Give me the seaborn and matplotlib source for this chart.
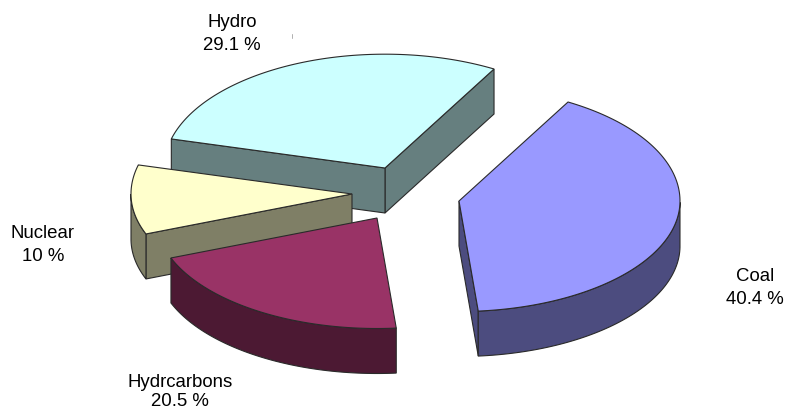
import numpy as np
import matplotlib
matplotlib.use("Agg")
import matplotlib.pyplot as plt
from matplotlib.patches import Polygon
import seaborn as sns

# data
categories = ["Coal", "Hydro", "Nuclear", "Hydrcarbons"]
shares = [40.4, 29.1, 10, 20.5]

# style / layout
top_colors = sns.color_palette(["#9999FF", "#CCFFFF", "#FFFFCC", "#993366"])
wall_colors = sns.color_palette(["#4C4C7F", "#667F7F", "#7F7F66", "#4C1933"])
draw_order = [1, 2, 3, 0]
centre = (393, 195)
explode = [(66, 6), (-8, -27), (-41, -1), (-16, 23)]
label_pos = [(755, 288), (232, 34), (43, 245), (180, 392)]
label_spacing = [1.4, 1.4, 1.4, 1.2]
start_angle = -85
radius = 221
squash_up, squash_down = 0.515, 0.50
depth = 45
edge = "#2a2a2a"
lw = 0.8

sns.set_theme(style="white")
plt.rcParams["font.family"] = ["Liberation Sans", "DejaVu Sans"]

fig = plt.figure(figsize=(7.86, 4.11), dpi=100)
ax = fig.add_axes([0, 0, 1, 1])
ax.set_xlim(0, 786)
ax.set_ylim(411, 0)
ax.axis("off")


def project(deg, apex):
    t = np.radians(deg)
    s = np.sin(t)
    k = np.where(s > 0, squash_up, squash_down)
    return np.column_stack((apex[0] + radius * np.cos(t), apex[1] - radius * s * k))


def wall(ax, pts, colour, z):
    pts = np.asarray(pts)
    poly = np.vstack((pts, (pts + [0, depth])[::-1]))
    ax.add_patch(Polygon(poly, closed=True, fc=colour, ec=edge, lw=lw, zorder=z))


edges_deg = start_angle + np.concatenate(([0], np.cumsum(shares))) * 3.6

for n, i in enumerate(draw_order):
    a0, a1 = edges_deg[i], edges_deg[i + 1]
    apex = (centre[0] + explode[i][0], centre[1] + explode[i][1])
    angles = np.linspace(a0, a1, 120)
    arc = project(angles, apex)
    apex_pt = np.array(apex, dtype=float)
    z = 2 + n * 3

    # radial walls are visible when their outward normal points down the screen,
    # which for this winding means the edge runs rightwards
    first = np.vstack((apex_pt, arc[0]))
    if first[1, 0] - first[0, 0] > 0:
        wall(ax, first, wall_colors[i], z)
    last = np.vstack((arc[-1], apex_pt))
    if last[1, 0] - last[0, 0] > 0:
        wall(ax, last, wall_colors[i], z)

    # curved wall: only the part in the lower half of the ellipse is visible
    vis = np.sin(np.radians(angles)) < 0
    if vis.any():
        wall(ax, arc[vis], wall_colors[i], z + 1)

    top = np.vstack((apex_pt, arc))
    ax.add_patch(Polygon(top, closed=True, fc=top_colors[i], ec=edge, lw=lw, zorder=z + 2))

for name, share, (x, y), sp in zip(categories, shares, label_pos, label_spacing):
    ax.text(x, y, f"{name}\n{share:g} %", ha="center", va="center",
            fontsize=13.4, color="black", linespacing=sp)

ax.plot([292, 292], [34, 38], color="#b0b0b0", lw=0.7)

fig.savefig("out.png", dpi=100, facecolor="white")
